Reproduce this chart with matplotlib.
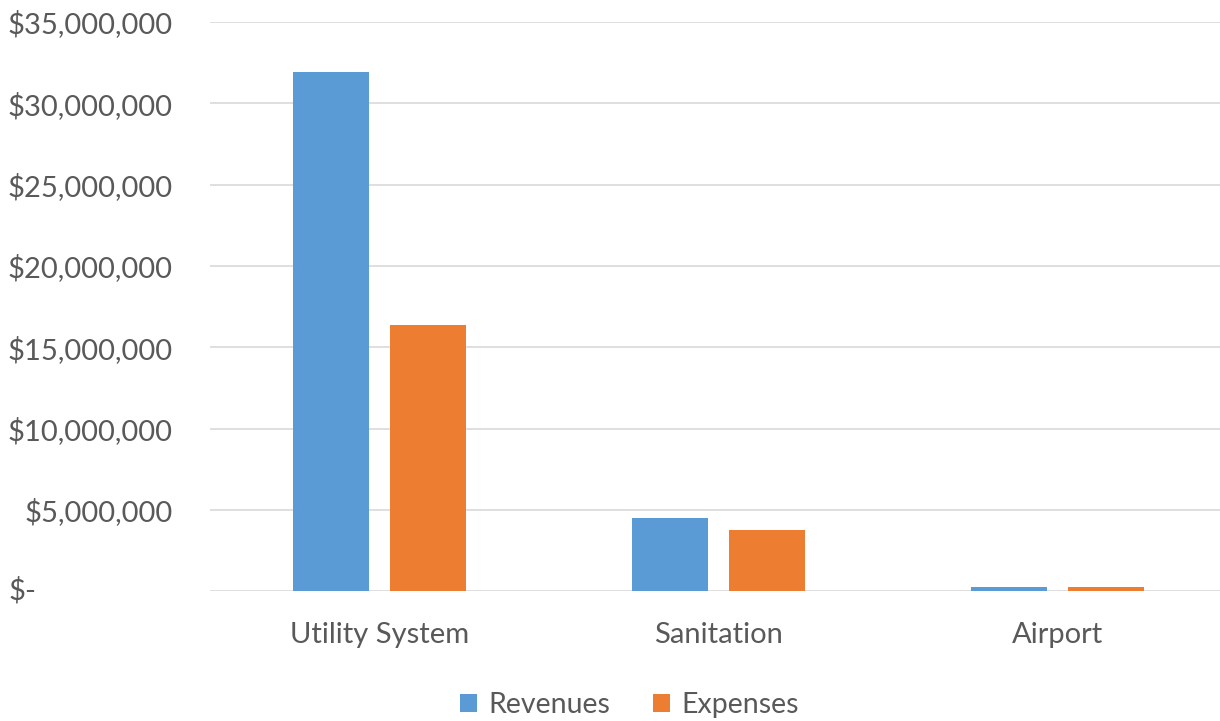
import numpy as np
import matplotlib.pyplot as plt
from matplotlib.ticker import FuncFormatter

# data
categories = ['Utility System', 'Sanitation', 'Airport']
revenues = [31900000, 4500000, 280000]
expenses = [16350000, 3750000, 260000]
y_ticks = [0, 5000000, 10000000, 15000000, 20000000, 25000000, 30000000, 35000000]

text_color = '#595959'
plt.rcParams['font.family'] = ['Lato', 'DejaVu Sans']

fig = plt.figure(figsize=(12.2, 7.21), dpi=100)
ax = fig.add_axes([0.172, 0.180, 0.828, 0.7895])

x = np.arange(len(categories))
width = 0.224
offset = 0.143
ax.bar(x - offset, revenues, width, color='#5B9BD5', label='Revenues', zorder=3)
ax.bar(x + offset, expenses, width, color='#ED7D31', label='Expenses', zorder=3)

ax.set_xlim(-0.5, 2.48)
ax.set_ylim(0, 35000000)
ax.set_yticks(y_ticks)
ax.yaxis.set_major_formatter(FuncFormatter(lambda v, p: '' if v == 0 else f'${v:,.0f}'))
ax.text(-0.199, 0, '$-', transform=ax.get_yaxis_transform(), ha='left', va='center',
        fontsize=21, color=text_color)
ax.set_xticks(x)
ax.set_xticklabels(categories)

ax.tick_params(axis='both', length=0, labelsize=21, labelcolor=text_color)
ax.tick_params(axis='y', pad=27)
ax.tick_params(axis='x', pad=22)
ax.grid(axis='y', color='#d9d9d9', linewidth=1.2, zorder=0)
for s in ax.spines.values():
    s.set_visible(False)

leg = fig.legend(loc='center', ncol=2, bbox_to_anchor=(0.516, 0.022), frameon=False,
                 fontsize=20.5, handlelength=0.6, handleheight=0.6, columnspacing=1.5,
                 handletextpad=0.4, borderpad=0)
for t in leg.get_texts():
    t.set_color(text_color)

plt.savefig('out.png', dpi=100)
